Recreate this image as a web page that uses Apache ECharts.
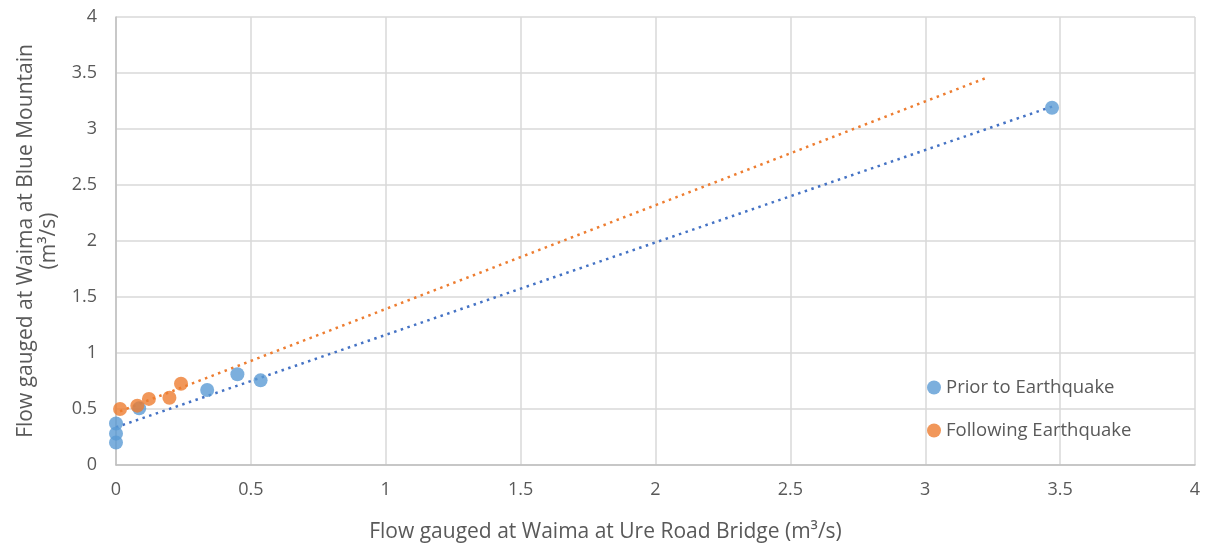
<!DOCTYPE html>
<html>
<head>
<meta charset="utf-8">
<script src="https://cdn.jsdelivr.net/npm/echarts@6/dist/echarts.min.js"></script>
<style>
  html, body { margin: 0; padding: 0; background: #fff; }
  #main { width: 1215px; height: 549px; }
</style>
</head>
<body>
<div id="main"></div>
<script>
// flows (m3/s): x = Ure Road Bridge, y = Blue Mountain
var priorX = [0, 0, 0, 0.086, 0.338, 0.45, 0.536, 3.47];
var priorY = [0.37, 0.28, 0.20, 0.506, 0.67, 0.81, 0.756, 3.19];
var followX = [0.015, 0.079, 0.122, 0.198, 0.241];
var followY = [0.50, 0.53, 0.59, 0.60, 0.726];
// dotted trend lines, start and end points
var priorTrendX = [0, 3.47];
var priorTrendY = [0.337, 3.20];
var followTrendX = [0.015, 3.225];
var followTrendY = [0.48, 3.455];

function pairs(xs, ys) {
    var list = [];
    for (var i = 0; i < xs.length; i++) {
        list.push([xs[i], ys[i]]);
    }
    return list;
}

var chart = echarts.init(document.getElementById('main'));
var font = '"Open Sans", Lato, sans-serif';
var option = {
    animation: false,
    textStyle: { fontFamily: font },
    grid: {
        left: 116,
        right: 20,
        top: 17,
        bottom: 84,
        containLabel: false,
        outerBoundsMode: 'none'
    },
    legend: {
        orient: 'vertical',
        left: 922,
        top: 373,
        itemWidth: 14,
        itemHeight: 14,
        itemGap: 24,
        icon: 'circle',
        textStyle: { color: '#595959', fontSize: 18.5, fontFamily: font },
        data: ['Prior to Earthquake', 'Following Earthquake']
    },
    xAxis: {
        type: 'value',
        min: 0,
        max: 4,
        interval: 0.5,
        name: 'Flow gauged at Waima at Ure Road Bridge (m³/s)',
        nameLocation: 'middle',
        nameGap: 57,
        nameTextStyle: { color: '#595959', fontSize: 21, padding: [0, 100, 0, 0] },
        axisLine: { show: true, lineStyle: { color: '#bfbfbf', width: 1.5 } },
        axisTick: { show: false },
        axisLabel: { color: '#595959', fontSize: 18, margin: 16 },
        splitLine: { lineStyle: { color: '#d9d9d9', width: 1.5 } }
    },
    yAxis: {
        type: 'value',
        min: 0,
        max: 4,
        interval: 0.5,
        name: 'Flow gauged at Waima at Blue Mountain\n(m³/s)',
        nameLocation: 'middle',
        nameGap: 54,
        nameTextStyle: { color: '#595959', fontSize: 21, lineHeight: 23 },
        axisLine: { show: true, lineStyle: { color: '#bfbfbf', width: 1.5 } },
        axisTick: { show: false },
        axisLabel: { color: '#595959', fontSize: 18, margin: 19 },
        splitLine: { lineStyle: { color: '#d9d9d9', width: 1.5 } }
    },
    series: [
        {
            name: 'Prior to Earthquake trend',
            type: 'line',
            data: pairs(priorTrendX, priorTrendY),
            symbol: 'none',
            lineStyle: { color: '#4472c4', width: 2.5, type: [2.5, 4.5] },
            z: 1
        },
        {
            name: 'Following Earthquake trend',
            type: 'line',
            data: pairs(followTrendX, followTrendY),
            symbol: 'none',
            lineStyle: { color: '#ed7d31', width: 2.5, type: [2.5, 4.5] },
            z: 1
        },
        {
            name: 'Prior to Earthquake',
            type: 'scatter',
            data: pairs(priorX, priorY),
            symbolSize: 14,
            itemStyle: { color: '#5b9bd5' },
            z: 3
        },
        {
            name: 'Following Earthquake',
            type: 'scatter',
            data: pairs(followX, followY),
            symbolSize: 14,
            itemStyle: { color: '#ed7d31' },
            z: 3
        }
    ]
};
chart.setOption(option);
window.onresize = function () {
    chart.resize();
};
</script>
</body>
</html>
